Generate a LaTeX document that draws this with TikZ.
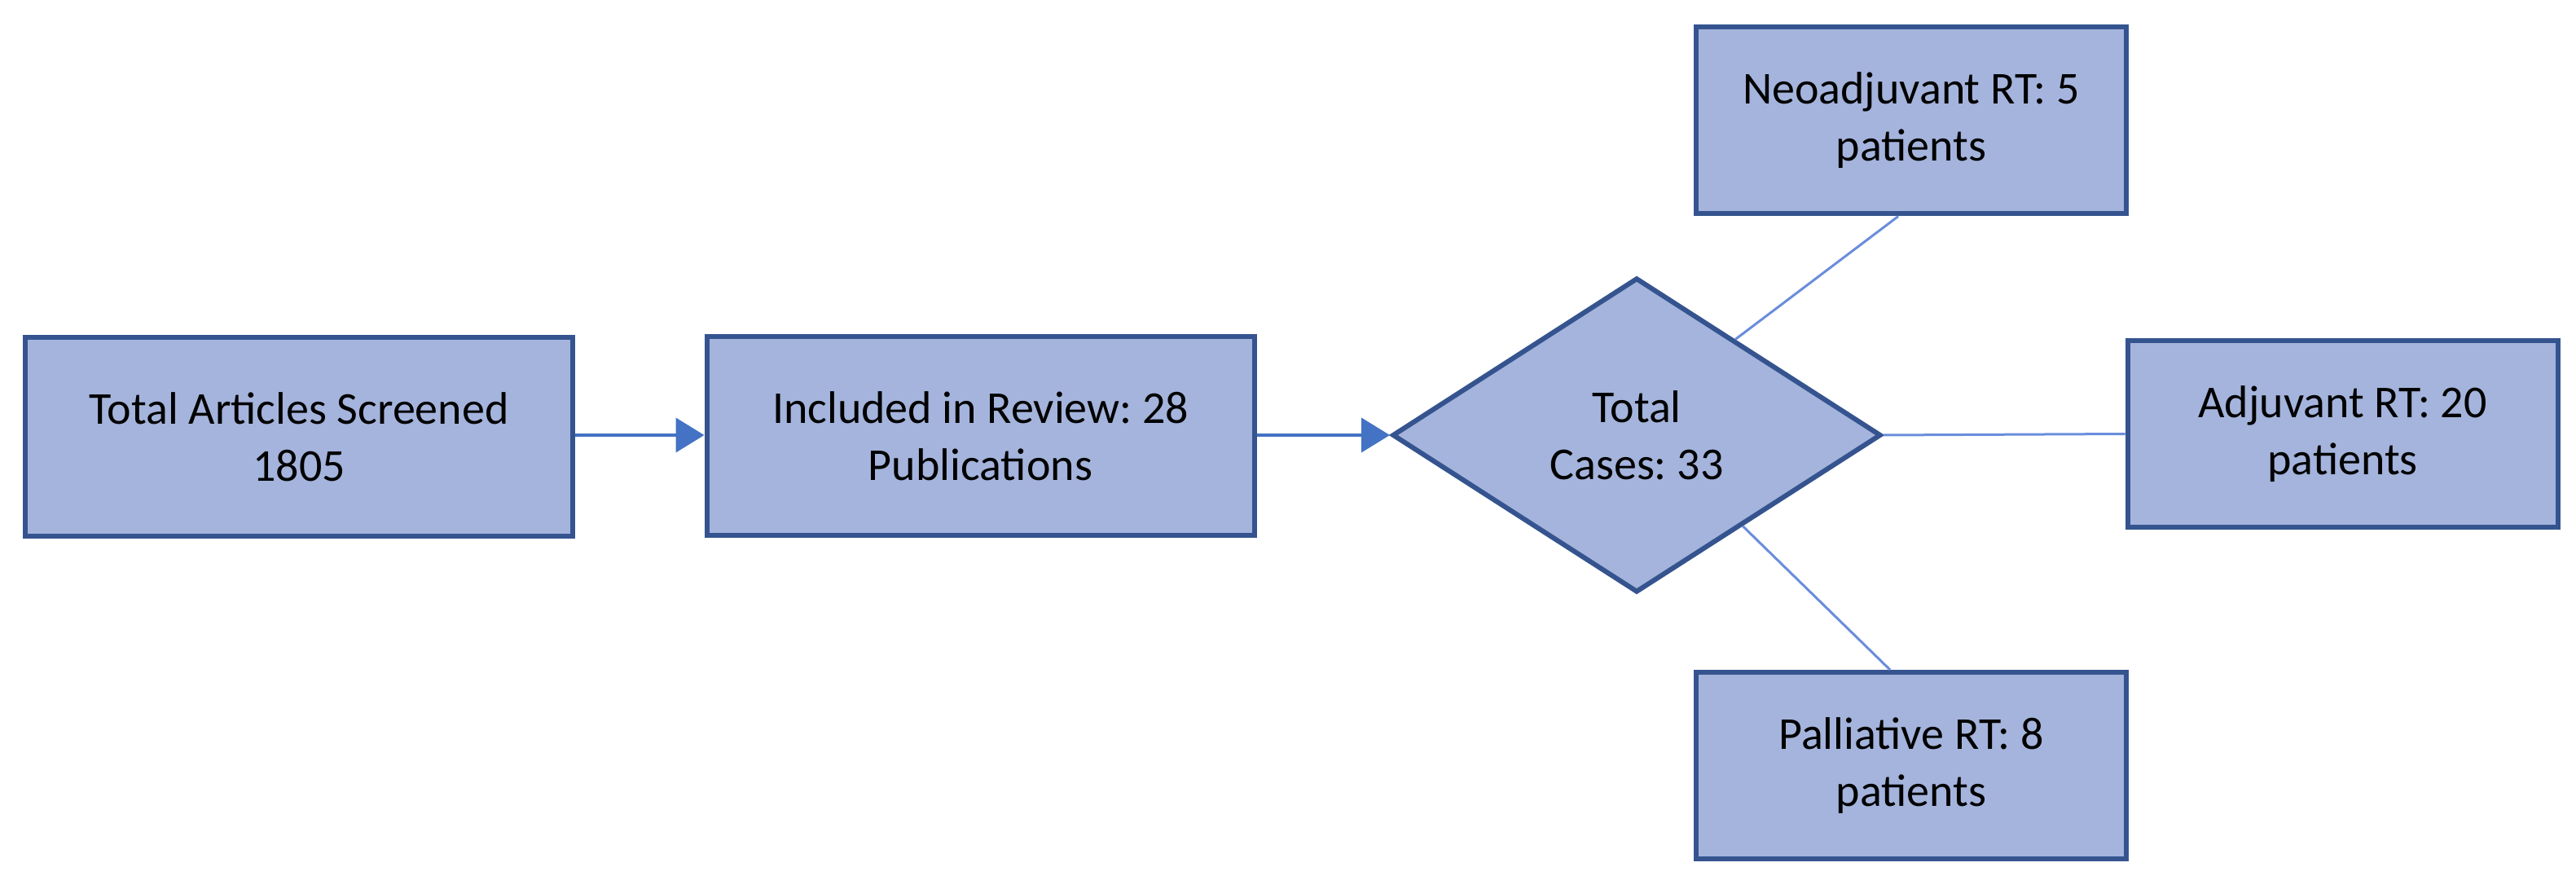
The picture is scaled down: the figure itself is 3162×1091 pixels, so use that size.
\documentclass[tikz,border=0pt]{standalone}
\usepackage{fontspec}
\setmainfont{Carlito}
\frenchspacing
\usetikzlibrary{shapes.geometric,arrows.meta,calc}
\definecolor{boxfill}{HTML}{A4B4DC}
\definecolor{boxedge}{HTML}{35548F}
\definecolor{arrowblue}{HTML}{4472C4}
\definecolor{thinblue}{HTML}{6A8DDC}
\begin{document}
\begin{tikzpicture}[x=0.25pt,y=-0.25pt,
  box/.style={draw=boxedge, fill=boxfill, line width=1.5pt, align=center, inner sep=0pt,
    font=\fontsize{14}{17.5}\selectfont},
  bigbox/.style={box, minimum width=168pt, minimum height=61pt},
  smallbox/.style={box, minimum width=132pt, minimum height=57.25pt},
  decision/.style={box, shape=diamond, minimum width=150pt, minimum height=96.5pt},
  mainarrow/.style={draw=arrowblue, line width=1pt, -{Triangle[length=8.75pt,width=10.5pt]}},
  thinline/.style={draw=thinblue, line width=0.75pt}]
\useasboundingbox (0,0) rectangle (3162,1091);
\node[bigbox] (b1) at (367,536) {Total Articles Screened\\1805};
\node[bigbox] (b2) at (1203.5,535) {Included in Review: 28\\Publications};
\node[decision] (dia) at (2009,534) {Total\\Cases: 33};
\node[smallbox] (neo) at (2346,148) {Neoadjuvant RT: 5\\patients};
\node[smallbox] (adj) at (2875.5,532.5) {Adjuvant RT: 20\\patients};
\node[smallbox] (pal) at (2346,939.5) {Palliative RT: 8\\patients};
\draw[mainarrow] ([yshift=0.5pt]b1.east) -- ([yshift=0.5pt]b1.east -| b2.west);
\draw[mainarrow] ([yshift=0.25pt]b2.east) -- ([yshift=0.25pt]b2.east -| dia.west);
\draw[thinline] ($(dia.north)!0.4!(dia.east)$) -- ([xshift=-4pt]neo.south);
\draw[thinline] (dia.east) -- (adj.west);
\draw[thinline] ($(dia.east)!0.57!(dia.south)$) -- ([xshift=-6.5pt]pal.north);
\end{tikzpicture}
\end{document}
